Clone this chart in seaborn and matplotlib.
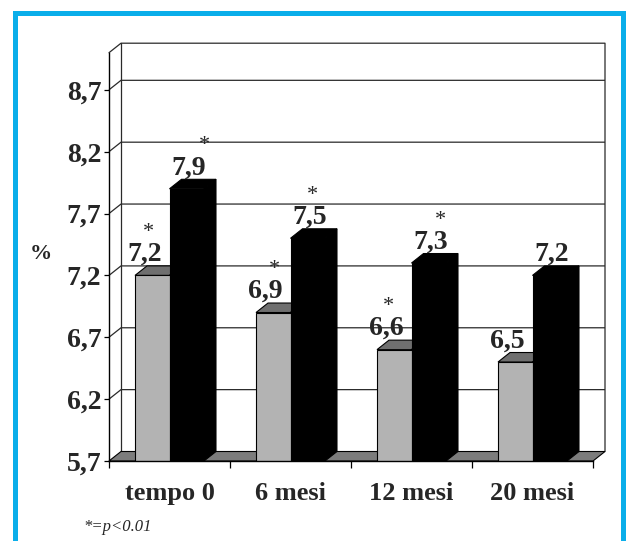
import numpy as np
import pandas as pd
import matplotlib
matplotlib.use("Agg")
import matplotlib.pyplot as plt
import seaborn as sns
from matplotlib.patches import Polygon, Rectangle

# ---------------- data ----------------
categories = ["tempo 0", "6 mesi", "12 mesi", "20 mesi"]
grey_values = [7.2, 6.9, 6.6, 6.5]
black_values = [7.9, 7.5, 7.3, 7.2]
grey_signif = [True, True, True, False]
black_signif = [True, True, True, False]
y_ticks = [5.7, 6.2, 6.7, 7.2, 7.7, 8.2, 8.7]
y_tick_labels = ["5,7", "6,2", "6,7", "7,2", "7,7", "8,2", "8,7"]
y_min, y_max = 5.7, 9.0
y_label = "%"
footnote = "*=p<0.01"

df = pd.DataFrame({
    "periodo": categories * 2,
    "serie": ["grey"] * len(categories) + ["black"] * len(categories),
    "valore": grey_values + black_values,
})

# ---------------- style ----------------
sns.set_style("white")
plt.rcParams["font.family"] = ["Liberation Serif", "DejaVu Serif"]

W, H = 628, 541
fig = plt.figure(figsize=(W / 100, H / 100), dpi=100)
ax_left, ax_right, ax_bottom, ax_top = 109, 593, 461, 52.7
ax = fig.add_axes([ax_left / W, 1 - ax_bottom / H, (ax_right - ax_left) / W, (ax_bottom - ax_top) / H])
ax.set_facecolor("none")

sns.barplot(data=df, x="periodo", y="valore", hue="serie",
            palette={"grey": "#b3b3b3", "black": "#000000"},
            width=0.57, saturation=1, legend=False, errorbar=None,
            edgecolor="black", linewidth=0.8, zorder=3, ax=ax)

ax.set_xlim(-0.5, len(categories) - 0.5)
ax.set_ylim(y_min, y_max)

# depth of the pseudo-3D effect, in data units
DX_PX, DY_PX = 12, 9.5
dxd = DX_PX / ((ax_right - ax_left) / len(categories))
dyd = DY_PX / ((ax_bottom - ax_top) / (y_max - y_min))

x0, x1 = -0.5, len(categories) - 0.5
gridc = "#2a2a2a"
for v in y_ticks[1:]:
    ax.plot([x0, x0 + dxd, x1 + dxd], [v, v + dyd, v + dyd], color=gridc, lw=0.9,
            zorder=1, clip_on=False, solid_capstyle="butt")
ax.plot([x0, x0 + dxd, x1 + dxd, x1 + dxd], [y_max, y_max + dyd, y_max + dyd, y_min + dyd],
        color=gridc, lw=0.9, zorder=1, clip_on=False)
ax.plot([x0 + dxd, x0 + dxd], [y_min + dyd, y_max + dyd], color=gridc, lw=0.9, zorder=1, clip_on=False)
floor = Polygon([(x0, y_min), (x1, y_min), (x1 + dxd, y_min + dyd), (x0 + dxd, y_min + dyd)],
                closed=True, facecolor="#7c7c7c", edgecolor="black", lw=0.8, zorder=2, clip_on=False)
ax.add_patch(floor)

# 3D faces of the bars
top_colors = ["#6f6f6f", "#000000"]
side_colors = ["#8a8a8a", "#000000"]
face_z = [2.9, 3.1]
label_dx_pt = [-5.8, 1.1]
star_dx_px = [[4, 9, 2, 0], [16, 3, 10, 0]]
signif = [grey_signif, black_signif]
for k, cont in enumerate(ax.containers):
    for i, p in enumerate(cont.patches):
        x, w, h = p.get_x(), p.get_width(), p.get_height()
        top = Polygon([(x, h), (x + w, h), (x + w + dxd, h + dyd), (x + dxd, h + dyd)], closed=True,
                      facecolor=top_colors[k], edgecolor="black", lw=0.8, zorder=face_z[k])
        side = Polygon([(x + w, y_min), (x + w, h), (x + w + dxd, h + dyd), (x + w + dxd, y_min + dyd)],
                       closed=True, facecolor=side_colors[k], edgecolor="black", lw=0.8, zorder=face_z[k])
        ax.add_patch(top)
        ax.add_patch(side)
        txt = f"{h:.1f}".replace(".", ",")
        ax.annotate(txt, (x + w / 2, h + dyd), xytext=(label_dx_pt[k], 3.6), textcoords="offset points",
                    ha="center", va="baseline", fontsize=20, fontweight="bold", zorder=5,
                    annotation_clip=False)
        if signif[k][i]:
            ax.annotate("*", (x + w / 2, h + dyd),
                        xytext=(label_dx_pt[k] + star_dx_px[k][i] * 0.72, 3.6 + 24 * 0.72),
                        textcoords="offset points", ha="center", va="baseline", fontsize=16,
                        zorder=5, annotation_clip=False)

# axes, ticks
for s in ["top", "right"]:
    ax.spines[s].set_visible(False)
for s in ["left", "bottom"]:
    ax.spines[s].set_color("black")
    ax.spines[s].set_linewidth(1.0)
    ax.spines[s].set_zorder(4)

ax.set_yticks(y_ticks)
ax.set_yticklabels(y_tick_labels, fontsize=20, fontweight="bold")
ax.tick_params(axis="y", direction="out", length=3.6, width=0.9, pad=2, color="black", left=True)
ax.set_xticks(range(len(categories)))
ax.set_xticklabels(categories, fontsize=19, fontweight="bold")
ax.set_xticks(np.arange(-0.5, len(categories)), minor=True)
ax.tick_params(axis="x", which="major", length=0, pad=15)
ax.tick_params(axis="x", which="minor", direction="out", length=5, width=0.9, color="black", bottom=True)
ax.set_xlabel("")
ax.set_ylabel("")
ax.grid(False)

fig.text(41 / W, 1 - 254 / H, y_label, fontsize=16, fontweight="bold", ha="center", va="center")
fig.text(83 / W, 1 - 531 / H, footnote, fontsize=12, fontstyle="italic", ha="left", va="baseline")

border = Rectangle((14.7 / W, -0.1), (623 - 14.7) / W, 1.1 - 12.7 / H, transform=fig.transFigure,
                   fill=False, edgecolor="#0aaeea", lw=3.6, zorder=10)
fig.add_artist(border)

fig.savefig("out.png", dpi=100)
